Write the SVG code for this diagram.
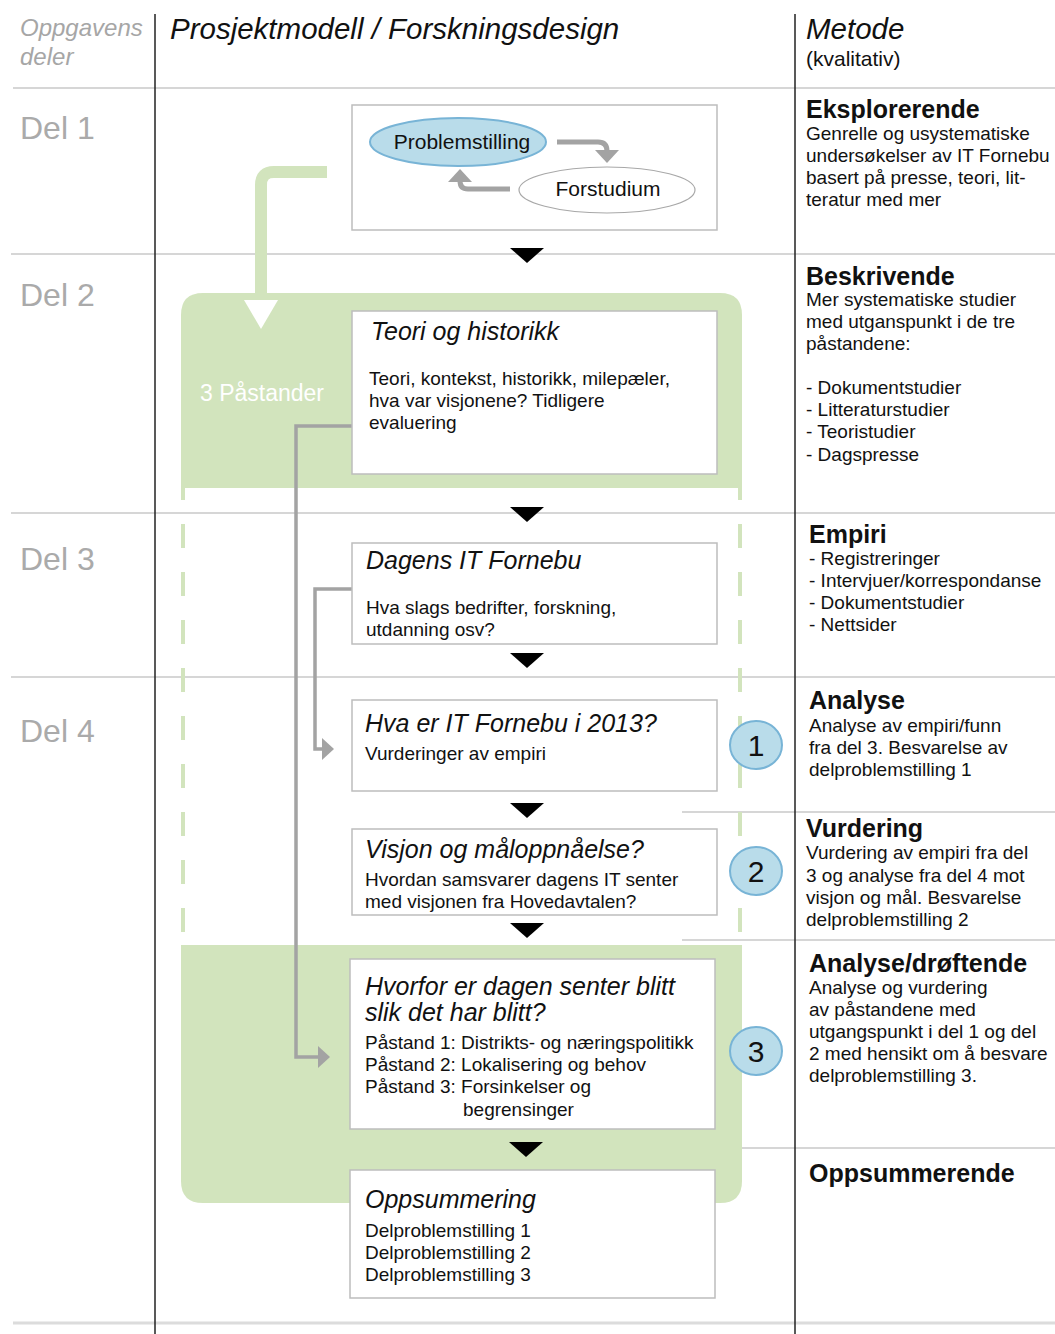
<svg xmlns="http://www.w3.org/2000/svg" width="1055" height="1334" viewBox="0 0 1055 1334">
<style>
text{font-family:"Liberation Sans",Arial,sans-serif;fill:#111}
.hdr{font-style:italic;font-size:29.5px}
.sub{font-size:21px}
.del{font-size:32px;fill:#aaa}
.sep{stroke:#c9c9c9;stroke-width:1.5;fill:none}
.vline{stroke:#222;stroke-width:1.5}
.box{fill:#fff;stroke:#bdbdbd;stroke-width:1.5}
.ttl{font-style:italic;font-size:25px}
.body{font-size:19px}
.mh{font-weight:bold;font-size:25px}
.mb{font-size:19px}
.green{fill:#d2e4bd}
.dash{stroke:#d2e4bd;stroke-width:4;stroke-dasharray:24 24;stroke-dashoffset:12;fill:none}
.tri{fill:#000}
.gcon{stroke:#a3a3a3;stroke-width:3.5;fill:none}
.gthick{stroke:#a3a3a3;stroke-width:5;fill:none}
.ghead{fill:#a3a3a3}
.circ{fill:#b9dcea;stroke:#78b4d6;stroke-width:2}
.num{font-size:30px;text-anchor:middle}
</style>

<!-- grid -->
<g id="grid">
<line class="sep" x1="13" y1="88" x2="1055" y2="88"/>
<line class="sep" x1="11" y1="254" x2="1055" y2="254"/>
<line class="sep" x1="11" y1="513" x2="1055" y2="513"/>
<line class="sep" x1="11" y1="677" x2="1055" y2="677"/>
<line class="sep" x1="682" y1="812" x2="1055" y2="812"/>
<line class="sep" x1="682" y1="940" x2="1055" y2="940"/>
<line class="sep" x1="742" y1="1148" x2="1055" y2="1148"/>
<line x1="13" y1="1323" x2="1055" y2="1323" stroke="#dcdcdc" stroke-width="3"/>
<line class="vline" x1="155" y1="14" x2="155" y2="1334"/>
<line class="vline" x1="795" y1="14" x2="795" y2="1334"/>
</g>

<g id="headers">
<text x="20" y="36" style="font-style:italic;font-size:24px;fill:#a6a6a6">Oppgavens</text>
<text x="20" y="65" style="font-style:italic;font-size:24px;fill:#a6a6a6">deler</text>
<text class="hdr" x="170" y="39">Prosjektmodell / Forskningsdesign</text>
<text class="hdr" x="806" y="39">Metode</text>
<text class="sub" x="806" y="66">(kvalitativ)</text>
<text class="del" x="20" y="139">Del 1</text>
<text class="del" x="20" y="306">Del 2</text>
<text class="del" x="20" y="570">Del 3</text>
<text class="del" x="20" y="742">Del 4</text>
</g>

<!-- green background regions -->
<g id="green-region">
<path class="green" d="M181,488 V315 Q181,293 203,293 H720 Q742,293 742,315 V488 Z"/>
<path class="green" d="M181,945 H742 V1181 Q742,1203 720,1203 H203 Q181,1203 181,1181 Z"/>
<line class="dash" x1="183" y1="488" x2="183" y2="945"/>
<line class="dash" x1="740" y1="488" x2="740" y2="945"/>
<path d="M327,172 H274 Q261,172 261,185 V300" stroke="#d2e4bd" stroke-width="12" fill="none"/>
<path d="M244,300 L278,300 L261,329 Z" fill="#fff"/>
<text x="200" y="401" style="font-size:23px;fill:#fff">3 Påstander</text>
</g>

<g id="node-del1">
<rect class="box" x="352" y="105" width="365" height="125"/>
</g>

<!-- connectors -->
<g id="connectors">
<path class="gthick" d="M557,142 H598 Q607,142 607,151 V152"/>
<path class="ghead" d="M595,150 L619,150 L607,163 Z"/>
<path class="gthick" d="M510,189 H468 Q460,189 460,181 V180"/>
<path class="ghead" d="M448,182 L472,182 L460,169 Z"/>
<path class="gcon" d="M352,426 H296 V1057 H320"/>
<path class="ghead" d="M318,1046 L318,1068 L330,1057 Z"/>
<path class="gcon" d="M352,589 H315 V749 H324"/>
<path class="ghead" d="M322,738 L322,760 L334,749 Z"/>
<path class="tri" d="M510,248 L544,248 L527,263 Z"/>
<path class="tri" d="M510,507 L544,507 L527,522 Z"/>
<path class="tri" d="M510,653 L544,653 L527,668 Z"/>
<path class="tri" d="M510,803 L544,803 L527,818 Z"/>
<path class="tri" d="M510,923 L544,923 L527,938 Z"/>
<path class="tri" d="M509,1142 L543,1142 L526,1157 Z"/>
</g>

<g id="node-problemstilling">
<ellipse class="circ" cx="458" cy="142" rx="88" ry="24"/>
<text x="462" y="149" text-anchor="middle" style="font-size:21px">Problemstilling</text>
</g>
<g id="node-forstudium">
<ellipse cx="607" cy="190" rx="88" ry="23" fill="#fff" stroke="#a8a8a8" stroke-width="1.2"/>
<text x="608" y="196" text-anchor="middle" style="font-size:21px">Forstudium</text>
</g>

<g id="node-teori">
<rect class="box" x="352" y="311" width="365" height="163"/>
<text class="ttl" x="371" y="340">Teori og historikk</text>
<text class="body" x="369" y="385">Teori, kontekst, historikk, milepæler,</text>
<text class="body" x="369" y="407">hva var visjonene? Tidligere</text>
<text class="body" x="369" y="429">evaluering</text>
</g>

<g id="node-dagens">
<rect class="box" x="352" y="543" width="365" height="101"/>
<text class="ttl" x="366" y="569">Dagens IT Fornebu</text>
<text class="body" x="366" y="614">Hva slags bedrifter, forskning,</text>
<text class="body" x="366" y="636">utdanning osv?</text>
</g>

<g id="node-hva">
<rect class="box" x="352" y="700" width="365" height="91"/>
<text class="ttl" x="365" y="732">Hva er IT Fornebu i 2013?</text>
<text class="body" x="365" y="760">Vurderinger av empiri</text>
</g>

<g id="node-visjon">
<rect class="box" x="352" y="829" width="365" height="86"/>
<text class="ttl" x="365" y="858">Visjon og måloppnåelse?</text>
<text class="body" x="365" y="886">Hvordan samsvarer dagens IT senter</text>
<text class="body" x="365" y="908">med visjonen fra Hovedavtalen?</text>
</g>

<g id="node-hvorfor">
<rect class="box" x="350" y="959" width="365" height="170"/>
<text class="ttl" x="365" y="995">Hvorfor er dagen senter blitt</text>
<text class="ttl" x="365" y="1021">slik det har blitt?</text>
<text class="body" x="365" y="1049">Påstand 1: Distrikts- og næringspolitikk</text>
<text class="body" x="365" y="1071">Påstand 2: Lokalisering og behov</text>
<text class="body" x="365" y="1093">Påstand 3: Forsinkelser og</text>
<text class="body" x="463" y="1116">begrensinger</text>
</g>

<g id="node-oppsummering">
<rect class="box" x="350" y="1170" width="365" height="128"/>
<text class="ttl" x="365" y="1208">Oppsummering</text>
<text class="body" x="365" y="1237">Delproblemstilling 1</text>
<text class="body" x="365" y="1259">Delproblemstilling 2</text>
<text class="body" x="365" y="1281">Delproblemstilling 3</text>
</g>

<g id="node-c1"><ellipse class="circ" cx="756" cy="745" rx="26" ry="24"/><text class="num" x="756" y="756">1</text></g>
<g id="node-c2"><ellipse class="circ" cx="756" cy="871" rx="26" ry="24"/><text class="num" x="756" y="882">2</text></g>
<g id="node-c3"><ellipse class="circ" cx="756" cy="1051" rx="26" ry="24"/><text class="num" x="756" y="1062">3</text></g>

<g id="method-text">
<text class="mh" x="806" y="118">Eksplorerende</text>
<text class="mb" x="806" y="140">Genrelle og usystematiske</text>
<text class="mb" x="806" y="162">undersøkelser av IT Fornebu</text>
<text class="mb" x="806" y="184">basert på presse, teori, lit-</text>
<text class="mb" x="806" y="206">teratur med mer</text>

<text class="mh" x="806" y="285">Beskrivende</text>
<text class="mb" x="806" y="306">Mer systematiske studier</text>
<text class="mb" x="806" y="328">med utganspunkt i de tre</text>
<text class="mb" x="806" y="350">påstandene:</text>
<text class="mb" x="806" y="394">- Dokumentstudier</text>
<text class="mb" x="806" y="416">- Litteraturstudier</text>
<text class="mb" x="806" y="438">- Teoristudier</text>
<text class="mb" x="806" y="461">- Dagspresse</text>

<text class="mh" x="809" y="543">Empiri</text>
<text class="mb" x="809" y="565">- Registreringer</text>
<text class="mb" x="809" y="587">- Intervjuer/korrespondanse</text>
<text class="mb" x="809" y="609">- Dokumentstudier</text>
<text class="mb" x="809" y="631">- Nettsider</text>

<text class="mh" x="809" y="709">Analyse</text>
<text class="mb" x="809" y="732">Analyse av empiri/funn</text>
<text class="mb" x="809" y="754">fra del 3. Besvarelse av</text>
<text class="mb" x="809" y="776">delproblemstilling 1</text>

<text class="mh" x="806" y="837">Vurdering</text>
<text class="mb" x="806" y="859">Vurdering av empiri fra del</text>
<text class="mb" x="806" y="882">3 og analyse fra del 4 mot</text>
<text class="mb" x="806" y="904">visjon og mål. Besvarelse</text>
<text class="mb" x="806" y="926">delproblemstilling 2</text>

<text class="mh" x="809" y="972">Analyse/drøftende</text>
<text class="mb" x="809" y="994">Analyse og vurdering</text>
<text class="mb" x="809" y="1016">av påstandene med</text>
<text class="mb" x="809" y="1038">utgangspunkt i del 1 og del</text>
<text class="mb" x="809" y="1060">2 med hensikt om å besvare</text>
<text class="mb" x="809" y="1082">delproblemstilling 3.</text>

<text class="mh" x="809" y="1182">Oppsummerende</text>
</g>
</svg>
